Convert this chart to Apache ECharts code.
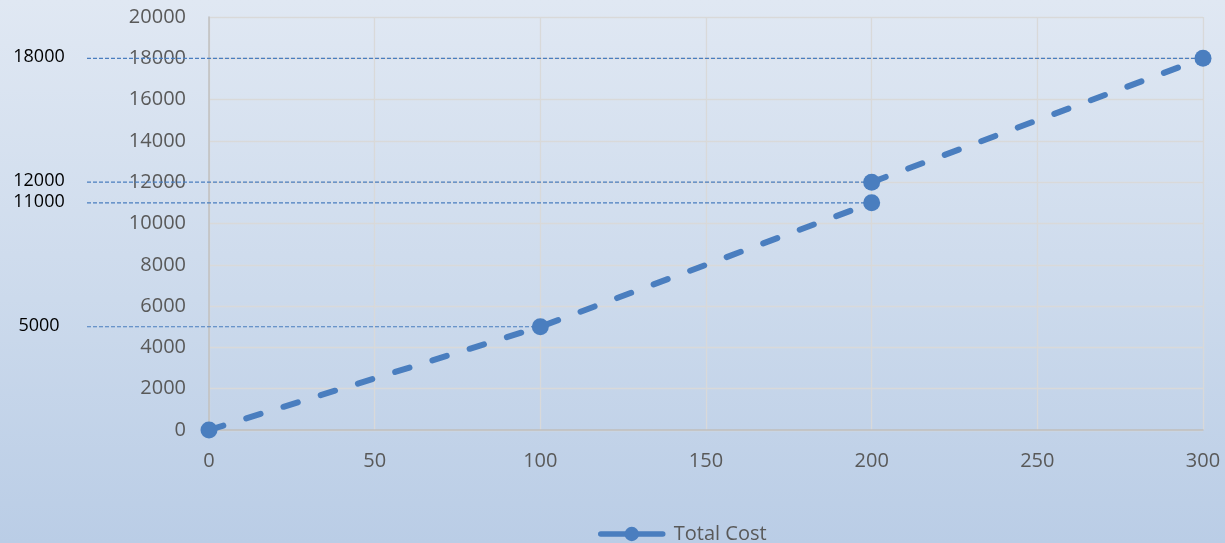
<!DOCTYPE html>
<html>
<head>
<meta charset="utf-8">
<script src="https://cdn.jsdelivr.net/npm/echarts@6/dist/echarts.min.js"></script>
<style>
  html, body { margin: 0; padding: 0; }
  #chart {
    width: 1225px; height: 543px;
    background: linear-gradient(to bottom, #e0e8f3 0%, #ccdaec 55%, #bacde6 100%);
  }
</style>
</head>
<body>
<div id="chart"></div>
<script>
// Output quantity and total cost at each point
const quantities = [0, 100, 200, 200, 300];
const totalCosts = [0, 5000, 11000, 12000, 18000];
const seriesName = 'Total Cost';

// Reference levels called out with guide lines on the left
const guideIndices = [4, 3, 2, 1];

const xTicks = { min: 0, max: 300, step: 50 };
const yTicks = { min: 0, max: 20000, step: 2000 };

const blue = '#4a7ebf';
const tickFont = { color: '#595959', fontSize: 20, fontFamily: 'Open Sans' };
const plain = v => String(v);

// Split the cost curve where the cost jumps at the same quantity
const segments = [];
let current = [];
quantities.forEach((q, i) => {
  if (i > 0 && q === quantities[i - 1]) { segments.push(current); current = []; }
  current.push([q, totalCosts[i]]);
});
segments.push(current);

const chart = echarts.init(document.getElementById('chart'), null, { renderer: 'canvas' });

chart.setOption({
  backgroundColor: 'transparent',
  animation: false,
  grid: { left: 209, right: 22, top: 17, bottom: 113 },
  xAxis: {
    type: 'value',
    min: xTicks.min, max: xTicks.max, interval: xTicks.step,
    axisLine: { show: true, onZero: false, lineStyle: { color: '#bfbfbf', width: 1.5 } },
    axisTick: { show: false },
    axisLabel: Object.assign({ margin: 21, formatter: plain }, tickFont),
    splitLine: { show: true, lineStyle: { color: '#d9d9d9', width: 1.3 } }
  },
  yAxis: {
    type: 'value',
    min: yTicks.min, max: yTicks.max, interval: yTicks.step,
    axisLine: { show: true, lineStyle: { color: '#bfbfbf', width: 1.5 } },
    axisTick: { show: false },
    axisLabel: Object.assign({ margin: 23, formatter: plain }, tickFont),
    splitLine: { show: true, lineStyle: { color: '#d9d9d9', width: 1.3 } }
  },
  legend: {
    show: true,
    left: 593, top: 519,
    itemWidth: 62, itemHeight: 18, itemGap: 10,
    textStyle: { color: '#595959', fontSize: 20, fontFamily: 'Open Sans', padding: [0, 0, 0, 6] },
    lineStyle: { type: 'solid', width: 5.5, cap: 'round' },
    data: [seriesName]
  },
  series: segments.map(seg => ({
    name: seriesName,
    type: 'line',
    data: seg,
    symbol: 'circle',
    symbolSize: 17,
    itemStyle: { color: blue },
    lineStyle: { color: blue, width: 6, type: [15, 24], cap: 'round' },
    z: 3
  }))
});

// Thin dashed guide lines running from the left margin to each called-out point,
// with the value written at the left edge
const guideStartX = 87;
const labelCenterX = 39;
const graphics = [];
guideIndices.forEach(i => {
  const p = chart.convertToPixel({ gridIndex: 0 }, [quantities[i], totalCosts[i]]);
  graphics.push({
    type: 'line',
    shape: { x1: guideStartX, y1: p[1], x2: p[0], y2: p[1] },
    style: { stroke: blue, lineWidth: 1.2, lineDash: [4, 2] },
    z: 2
  });
  graphics.push({
    type: 'text',
    x: labelCenterX, y: p[1] - 1,
    style: {
      text: String(totalCosts[i]),
      fill: '#000000',
      font: '18px "Open Sans"',
      textAlign: 'center',
      textVerticalAlign: 'middle'
    },
    z: 5
  });
});
chart.setOption({ graphic: graphics });
</script>
</body>
</html>
